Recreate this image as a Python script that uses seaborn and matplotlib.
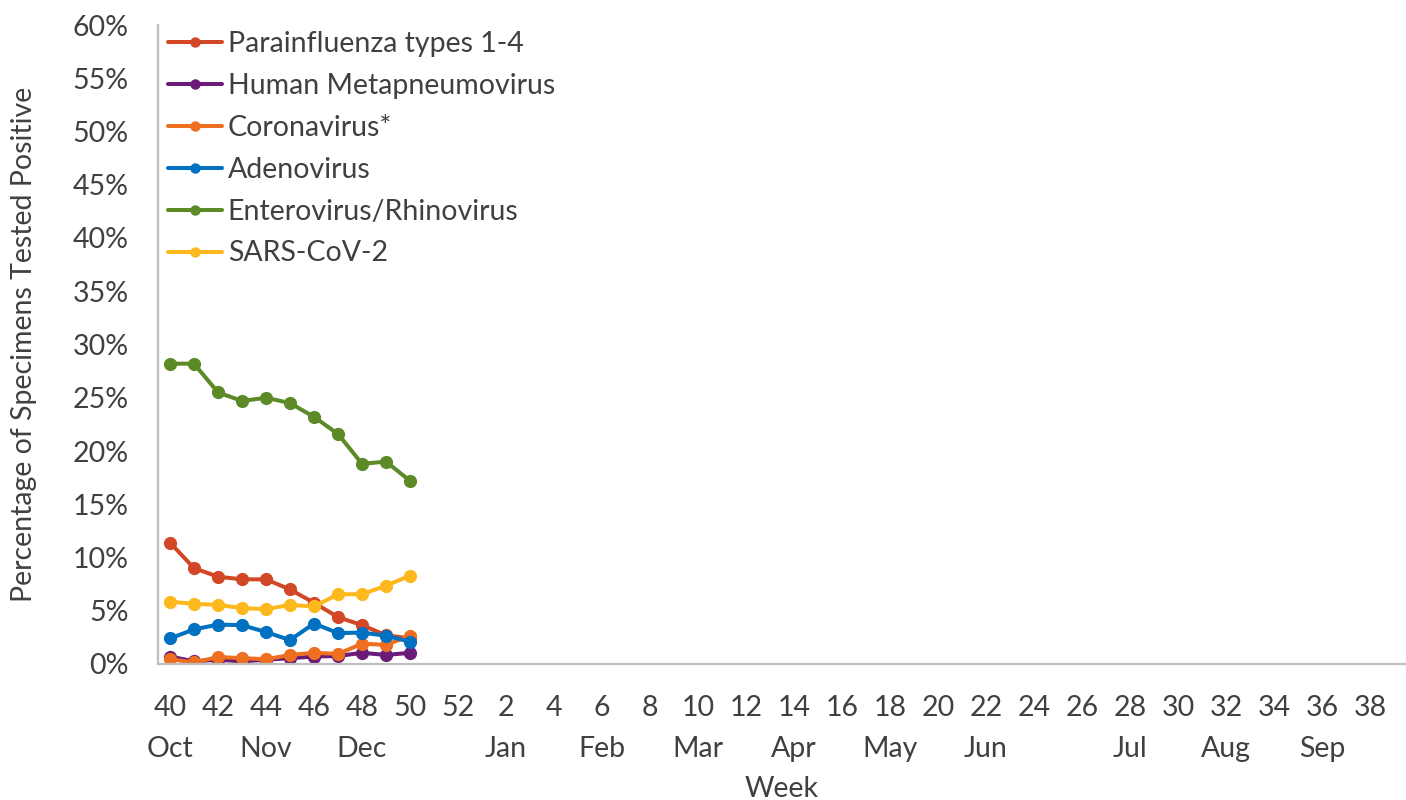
import numpy as np
import pandas as pd
import seaborn as sns
import matplotlib.pyplot as plt
import matplotlib.transforms as mtransforms
from matplotlib.lines import Line2D

weeks = list(range(40, 53)) + list(range(1, 40))
month_names = ['Oct', 'Nov', 'Dec', 'Jan', 'Feb', 'Mar', 'Apr', 'May', 'Jun', 'Jul', 'Aug', 'Sep']
month_weeks = [40, 44, 48, 2, 6, 10, 14, 18, 22, 28, 32, 36]

viruses = ['Parainfluenza types 1-4', 'Human Metapneumovirus', 'Coronavirus*',
           'Adenovirus', 'Enterovirus/Rhinovirus', 'SARS-CoV-2']
colors = ['#D24726', '#6A1B78', '#EE6F1F', '#0070C0', '#5B8A26', '#FDB81E']

# weeks 40-50 so far
parainfluenza = [11.4, 9.0, 8.2, 7.95, 7.95, 7.0, 5.75, 4.4, 3.65, 2.7, 2.4]
hmpv = [0.7, 0.25, 0.4, 0.25, 0.4, 0.55, 0.7, 0.75, 1.05, 0.85, 1.05]
coronavirus = [0.45, 0.15, 0.65, 0.55, 0.45, 0.85, 1.05, 0.95, 1.9, 1.8, 2.65]
adenovirus = [2.4, 3.25, 3.7, 3.65, 3.0, 2.25, 3.8, 2.9, 2.95, 2.65, 2.1]
entero_rhino = [28.2, 28.2, 25.5, 24.7, 25.0, 24.5, 23.2, 21.6, 18.8, 19.0, 17.2]
sars_cov2 = [5.85, 5.65, 5.55, 5.25, 5.15, 5.55, 5.4, 6.55, 6.55, 7.35, 8.3]

series = [parainfluenza, hmpv, coronavirus, adenovirus, entero_rhino, sars_cov2]
rows = []
for name, vals in zip(viruses, series):
    for i, v in enumerate(vals):
        rows.append({'idx': i, 'week': weeks[i], 'pct': v, 'virus': name})
df = pd.DataFrame(rows)

sns.set_style('white')
plt.rcParams['font.family'] = ['Lato', 'DejaVu Sans']
txt = '#404040'
fs = 20.5

fig = plt.figure(figsize=(14.06, 8.0), dpi=100)
ax = fig.add_axes([158 / 1406, 1 - 664 / 800, 1 - 158 / 1406, (664 - 25) / 800])

sns.lineplot(data=df, x='idx', y='pct', hue='virus', hue_order=viruses,
             palette=dict(zip(viruses, colors)), marker='o', markersize=9.5,
             markeredgewidth=0, linewidth=2.9, legend=False, ax=ax)

ax.set_xlim(-0.5, len(weeks) - 0.5)
ax.set_ylim(0, 60)
ax.set_yticks(np.arange(0, 61, 5))
ax.set_yticklabels([f'{v}%' for v in range(0, 61, 5)])

ax.set_xticks(np.arange(0, len(weeks), 2))
ax.set_xticklabels([str(weeks[i]) for i in range(0, len(weeks), 2)])
ax.set_xticks(np.arange(-0.5, len(weeks), 1), minor=True)
ax.tick_params(axis='x', which='major', length=0, pad=22, labelsize=fs, labelcolor=txt)
ax.tick_params(axis='x', which='minor', length=7, width=1.2, color='#BFBFBF', direction='out')
ax.tick_params(axis='y', length=0, pad=21, labelsize=fs, labelcolor=txt)

for s in ['top', 'right']:
    ax.spines[s].set_visible(False)
for s in ['left', 'bottom']:
    ax.spines[s].set_color('#BFBFBF')
    ax.spines[s].set_linewidth(1.6)

trans = mtransforms.blended_transform_factory(ax.transData, ax.transAxes)
for m, w in zip(month_names, month_weeks):
    ax.text(weeks.index(w), -85 / 639, m, transform=trans, ha='center', va='center',
            fontsize=fs, color=txt)

ax.set_xlabel('')
ax.text(0.5, -125 / 639, 'Week', transform=ax.transAxes, ha='center', va='center',
        fontsize=fs, color=txt)
ax.set_ylabel('Percentage of Specimens Tested Positive', fontsize=fs, color=txt, labelpad=26)

handles = [Line2D([], [], color=c, marker='o', markersize=7.5, linewidth=2.9,
                  markeredgewidth=0) for c in colors]
ax.legend(handles, viruses, loc='upper left', bbox_to_anchor=(10 / 1248, 0.991), frameon=False,
          fontsize=fs, labelcolor=txt, handlelength=1.9, handletextpad=0.2,
          labelspacing=0.56, borderaxespad=0, borderpad=0)

fig.savefig('out.png', dpi=100)
